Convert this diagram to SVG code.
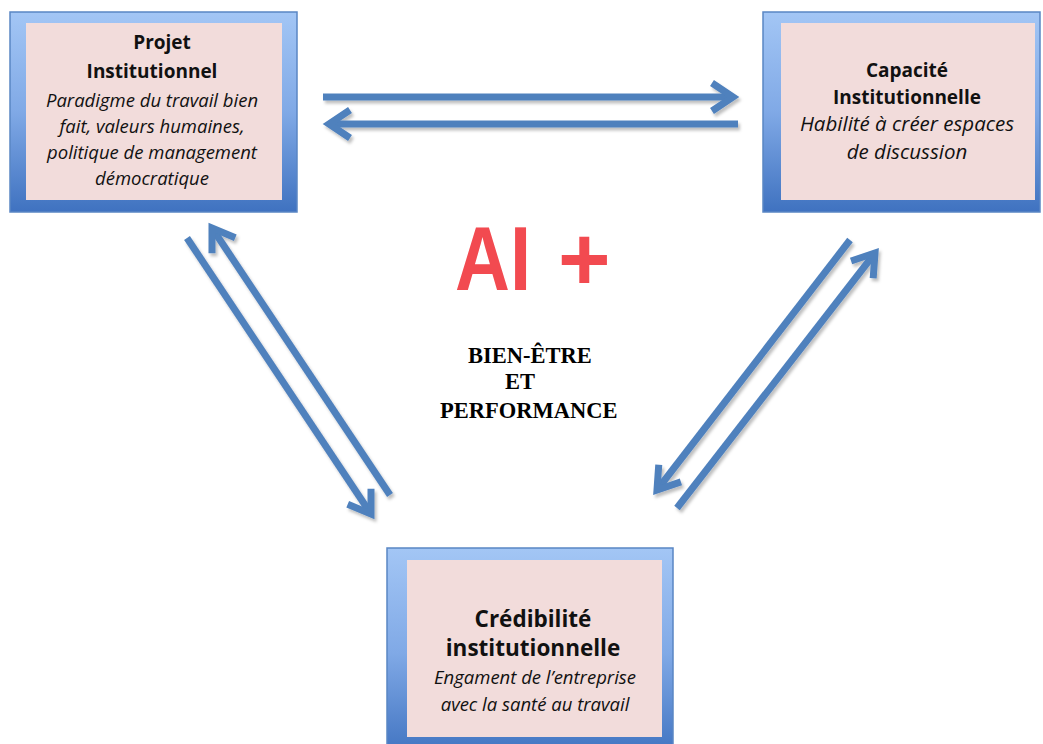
<svg xmlns="http://www.w3.org/2000/svg" width="1043" height="744" viewBox="0 0 1043 744">
<style>
.frame{stroke:#5a86c4;stroke-width:1.5}
.inner{fill:#f2dcdb}
.t{font-family:"Open Sans","Noto Sans",sans-serif;font-weight:bold;font-size:19px;fill:#111;text-anchor:middle}
.t3{font-size:22.5px}
.s{font-family:"Open Sans","Noto Sans",sans-serif;font-style:italic;font-size:18.5px;fill:#111;text-anchor:middle}
.s2{font-size:20.5px}
.c{fill:none;stroke:#4f81bd;stroke-width:7;marker-end:url(#head)}
.mid{font-family:"Liberation Serif","Times New Roman",serif;font-weight:bold;font-size:22.5px;fill:#000}
</style>
<defs>
<linearGradient id="fg" x1="0" y1="0" x2="0" y2="1">
<stop offset="0" stop-color="#a3c6f5"/>
<stop offset="0.5" stop-color="#80a9e6"/>
<stop offset="1" stop-color="#3f72c0"/>
</linearGradient>
<filter id="sh" x="-10%" y="-10%" width="130%" height="130%">
<feDropShadow dx="2" dy="3" stdDeviation="1.5" flood-color="#000" flood-opacity="0.25"/>
</filter>
<marker id="head" markerUnits="userSpaceOnUse" viewBox="-30 -20 36 40" refX="0" refY="0" markerWidth="36" markerHeight="40" orient="auto" overflow="visible">
<path d="M -21 -14 L 0 0 L -21 14" fill="none" stroke="#4f81bd" stroke-width="7" stroke-linejoin="miter"/>
</marker>
</defs>
<rect width="1043" height="744" fill="#ffffff"/>

<g id="connectors" filter="url(#sh)">
<line class="c" x1="323" y1="97" x2="733" y2="97"/>
<line class="c" x1="738" y1="124" x2="329" y2="124"/>
<line class="c" x1="187" y1="238" x2="371" y2="514"/>
<line class="c" x1="390" y1="495" x2="212" y2="228"/>
<line class="c" x1="850" y1="240" x2="657" y2="490"/>
<line class="c" x1="677" y1="508" x2="875" y2="253"/>
</g>

<g id="node-projet">
<rect class="frame" x="10" y="12" width="287" height="200" fill="url(#fg)"/>
<rect class="inner" x="26" y="23" width="256" height="177"/>
<text class="t" x="162" y="49">Projet</text>
<text class="t" x="152" y="78">Institutionnel</text>
<text class="s" x="152" y="107">Paradigme du travail bien</text>
<text class="s" x="152" y="133">fait, valeurs humaines,</text>
<text class="s" x="152" y="159">politique de management</text>
<text class="s" x="152" y="185">démocratique</text>
</g>

<g id="node-capacite">
<rect class="frame" x="763" y="12" width="277" height="200" fill="url(#fg)"/>
<rect class="inner" x="781" y="23" width="254" height="177"/>
<text class="t" x="907" y="77">Capacité</text>
<text class="t" x="907" y="104">Institutionnelle</text>
<text class="s s2" x="907" y="131">Habilité à créer espaces</text>
<text class="s s2" x="907" y="159">de discussion</text>
</g>

<g id="node-credibilite">
<rect class="frame" x="387" y="548" width="286" height="210" fill="url(#fg)"/>
<rect class="inner" x="407" y="560" width="255" height="177"/>
<text class="t t3" x="533" y="627">Crédibilité</text>
<text class="t t3" x="533" y="656">institutionnelle</text>
<text class="s" x="535" y="684">Engament de l’entreprise</text>
<text class="s" x="535" y="711">avec la santé au travail</text>
</g>

<g id="center">
<text x="455" y="290" font-family="Liberation Sans,Arial,sans-serif" font-weight="bold" font-size="90" fill="#f24a50" textLength="76" lengthAdjust="spacingAndGlyphs">AI</text>
<text x="558" y="290" font-family="Liberation Sans,Arial,sans-serif" font-weight="bold" font-size="90" fill="#f24a50">+</text>
<text class="mid" x="468" y="363">BIEN-ÊTRE</text>
<text class="mid" x="505" y="389">ET</text>
<text class="mid" x="440" y="418">PERFORMANCE</text>
</g>
</svg>
